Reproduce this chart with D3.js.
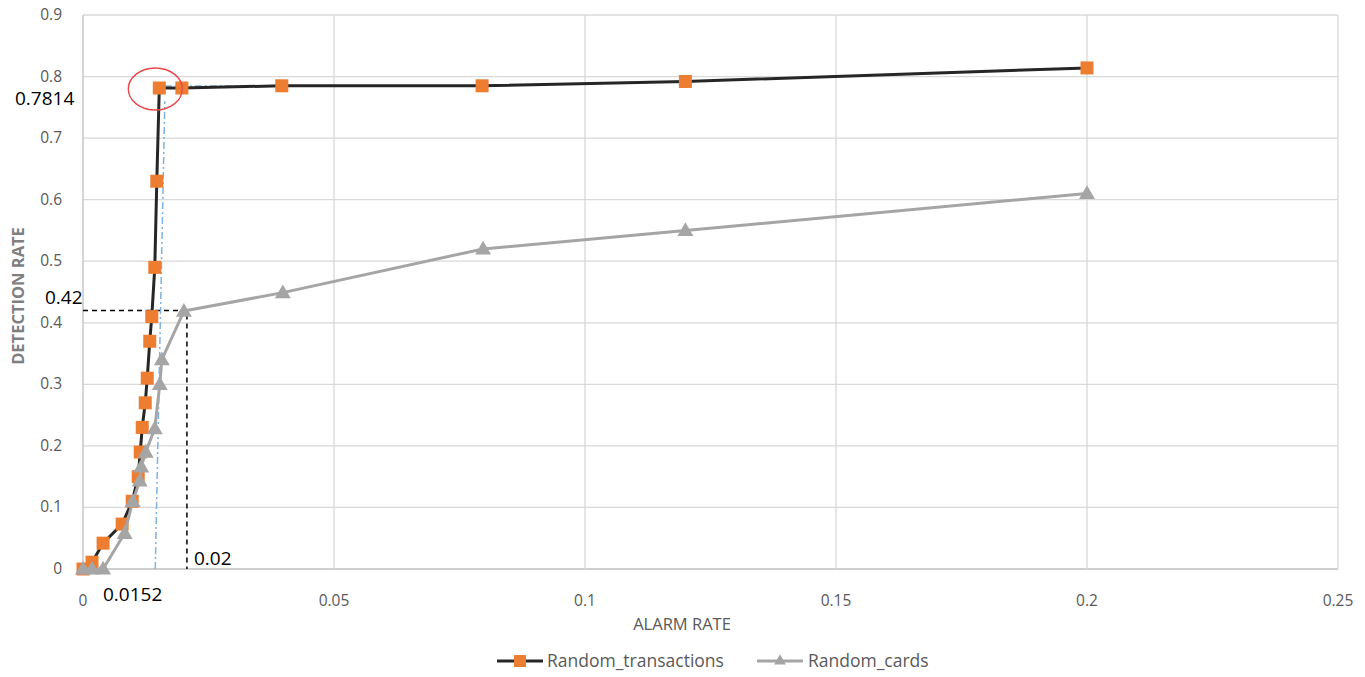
<!DOCTYPE html>
<html><head><meta charset="utf-8">
<script src="https://cdn.jsdelivr.net/npm/d3@7"></script>
<style>
html,body{margin:0;padding:0;background:#fff;}
svg{display:block;font-family:"Open Sans","Liberation Sans",sans-serif;}
</style></head>
<body><svg id="c" width="1365" height="677"></svg>
<script>
// Data
const transX = [0, 0.0018, 0.004, 0.0078, 0.0098, 0.011, 0.0114, 0.0118, 0.0124, 0.0128, 0.0133, 0.0137, 0.0143, 0.0147, 0.0152, 0.0197, 0.0396, 0.0795, 0.12, 0.2];
const transY = [0, 0.011, 0.042, 0.073, 0.11, 0.15, 0.19, 0.23, 0.27, 0.31, 0.37, 0.41, 0.49, 0.63, 0.7814, 0.7814, 0.785, 0.785, 0.792, 0.814];
const cardsX = [0, 0.0018, 0.004, 0.0083, 0.0099, 0.0113, 0.0116, 0.0125, 0.0143, 0.0153, 0.0157, 0.0201, 0.0398, 0.0797, 0.12, 0.2];
const cardsY = [0, 0, 0, 0.058, 0.11, 0.143, 0.166, 0.19, 0.228, 0.30, 0.34, 0.419, 0.449, 0.52, 0.55, 0.61];
const xTicks = [0, 0.05, 0.1, 0.15, 0.2, 0.25];
const yTicks = [0, 0.1, 0.2, 0.3, 0.4, 0.5, 0.6, 0.7, 0.8, 0.9];
const seriesNames = ["Random_transactions", "Random_cards"];
const annotX = 0.0152, annotY = 0.7814, dashX = 0.0207, dashY = 0.42;

const svg = d3.select("#c");
const x = d3.scaleLinear().domain([0, 0.25]).range([83, 1338]);
const y = d3.scaleLinear().domain([0, 0.9]).range([569, 15]);

// gridlines
svg.append("g").selectAll("line").data(yTicks).join("line")
  .attr("x1", x(0)).attr("x2", x(0.25)).attr("y1", d => y(d)).attr("y2", d => y(d))
  .attr("stroke", d => d === 0 ? "#bfbfbf" : "#d9d9d9").attr("stroke-width", 1.3);
svg.append("g").selectAll("line").data(xTicks).join("line")
  .attr("y1", y(0)).attr("y2", y(0.9)).attr("x1", d => x(d)).attr("x2", d => x(d))
  .attr("stroke", d => d === 0 ? "#bfbfbf" : "#d9d9d9").attr("stroke-width", 1.3);

// tick labels
svg.append("g").selectAll("text").data(yTicks).join("text")
  .attr("x", 62).attr("y", d => y(d) + 5).attr("text-anchor", "end")
  .attr("font-size", 15.5).attr("fill", "#595959").text(d => d);
svg.append("g").selectAll("text").data(xTicks).join("text")
  .attr("x", d => x(d)).attr("y", 606).attr("text-anchor", "middle")
  .attr("font-size", 15.5).attr("fill", "#595959").text(d => d);

// axis titles
svg.append("text").attr("x", 682).attr("y", 630).attr("text-anchor", "middle")
  .attr("font-size", 16.5).attr("fill", "#595959").text("ALARM RATE");
svg.append("text").attr("transform", "translate(24,296) rotate(-90)").attr("text-anchor", "middle")
  .attr("font-size", 16.5).attr("font-weight", "bold").attr("fill", "#7f7f7f").text("DETECTION RATE");

// blue dash-dot helper lines
svg.append("path")
  .attr("d", `M${x(0.0144)},${y(0)} L${x(0.0163)},${y(0.76)} M${x(0.0163)},${y(0.7845)} L${x(0.039)},${y(0.7845)}`)
  .attr("fill", "none").attr("stroke", "#7fb2e0").attr("stroke-width", 1.5).attr("stroke-dasharray", "7,3,2,3");

// black dashed lines
svg.append("path")
  .attr("d", `M${x(0)},${y(dashY)} L${x(dashX)},${y(dashY)} L${x(dashX)},${y(0)}`)
  .attr("fill", "none").attr("stroke", "#000").attr("stroke-width", 1.5).attr("stroke-dasharray", "5,4");

const line = d3.line().x(d => x(d[0])).y(d => y(d[1]));
const tData = transX.map((v, i) => [v, transY[i]]);
const cData = cardsX.map((v, i) => [v, cardsY[i]]);

// transactions series
svg.append("path").datum(tData).attr("d", line).attr("fill", "none")
  .attr("stroke", "#262626").attr("stroke-width", 3).attr("stroke-linejoin", "round");
svg.append("g").selectAll("rect").data(tData).join("rect")
  .attr("x", d => x(d[0]) - 6.5).attr("y", d => y(d[1]) - 6.5).attr("width", 13).attr("height", 13)
  .attr("fill", "#ed7d31");

// cards series
const tri = d3.symbol().type(d3.symbolTriangle).size(110);
svg.append("path").datum(cData).attr("d", line).attr("fill", "none")
  .attr("stroke", "#a5a5a5").attr("stroke-width", 3).attr("stroke-linejoin", "round");
svg.append("g").selectAll("path").data(cData).join("path")
  .attr("transform", d => `translate(${x(d[0])},${y(d[1]) + 1})`).attr("d", tri)
  .attr("fill", "#a5a5a5");

// red ellipse
svg.append("ellipse").attr("cx", x(annotX) - 4).attr("cy", y(annotY) + 1).attr("rx", 27).attr("ry", 21)
  .attr("fill", "none").attr("stroke", "#e8474b").attr("stroke-width", 1.4);

// annotation labels
const ann = svg.append("g").attr("font-size", 19).attr("fill", "#000");
ann.append("text").attr("x", 15).attr("y", 105).text(String(annotY));
ann.append("text").attr("x", 45).attr("y", 304).text(String(dashY));
ann.append("text").attr("x", 194).attr("y", 565).text("0.02");
ann.append("text").attr("x", 103).attr("y", 601).text(String(annotX));

// legend
const lg = svg.append("g").attr("font-size", 17.5).attr("fill", "#595959");
lg.append("line").attr("x1", 497).attr("x2", 543).attr("y1", 661).attr("y2", 661).attr("stroke", "#262626").attr("stroke-width", 3);
lg.append("rect").attr("x", 514).attr("y", 655).attr("width", 12).attr("height", 12).attr("fill", "#ed7d31");
lg.append("text").attr("x", 547).attr("y", 667).text(seriesNames[0]);
lg.append("line").attr("x1", 757).attr("x2", 803).attr("y1", 661).attr("y2", 661).attr("stroke", "#a5a5a5").attr("stroke-width", 3);
lg.append("path").attr("transform", "translate(780,661)").attr("d", d3.symbol().type(d3.symbolTriangle).size(60)).attr("fill", "#a5a5a5");
lg.append("text").attr("x", 808).attr("y", 667).text(seriesNames[1]);
</script></body></html>
